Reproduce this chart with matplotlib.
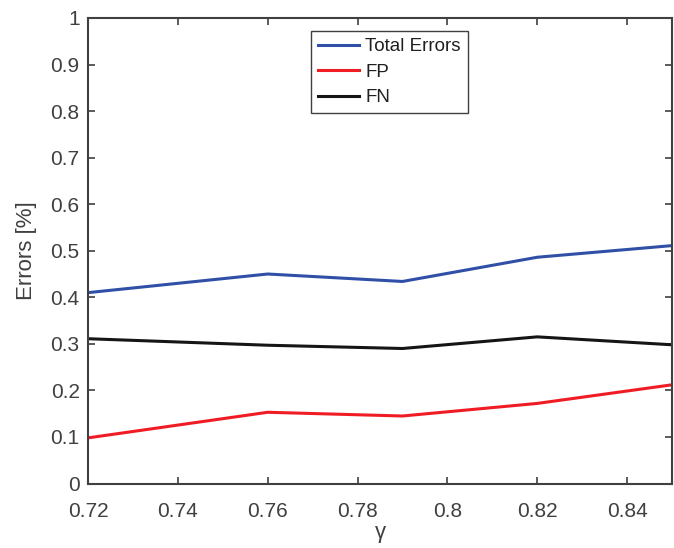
import matplotlib
matplotlib.use("Agg")
import matplotlib.pyplot as plt

gamma = [0.72, 0.76, 0.79, 0.82, 0.85]
total_errors = [0.410, 0.450, 0.434, 0.486, 0.511]
fp = [0.098, 0.153, 0.145, 0.172, 0.212]
fn = [0.311, 0.297, 0.290, 0.315, 0.298]

x_ticks = [0.72, 0.74, 0.76, 0.78, 0.8, 0.82, 0.84]
y_ticks = [0, 0.1, 0.2, 0.3, 0.4, 0.5, 0.6, 0.7, 0.8, 0.9, 1]

grey = "#404040"
plt.rcParams["font.family"] = ["Liberation Sans", "DejaVu Sans"]


def main() -> None:
    fig = plt.figure(figsize=(6.74, 5.48), dpi=100)
    ax = fig.add_axes([0.1306, 0.1177, 0.8664, 0.8495])

    ax.plot(gamma, total_errors, color="#3050a8", lw=2.2, label="Total Errors")
    ax.plot(gamma, fp, color="#f01c24", lw=2.2, label="FP")
    ax.plot(gamma, fn, color="#151515", lw=2.2, label="FN")

    ax.set_xlim(0.72, 0.85)
    ax.set_ylim(0, 1)
    ax.set_xticks(x_ticks)
    ax.set_xticklabels([f"{v:g}" for v in x_ticks])
    ax.set_yticks(y_ticks)
    ax.set_yticklabels([f"{v:g}" for v in y_ticks])

    ax.tick_params(direction="in", length=5, width=1.2, colors=grey,
                   labelsize=15, top=True, right=True, pad=6)
    ax.tick_params(axis="x", pad=13)
    for s in ax.spines.values():
        s.set_color(grey)
        s.set_linewidth(1.5)

    ax.set_xlabel("γ", fontsize=16, color=grey, labelpad=1)
    ax.set_ylabel("Errors [%]", fontsize=16, color=grey, labelpad=10)

    leg = ax.legend(loc="upper left", bbox_to_anchor=(0.382, 0.971),
                    fontsize=13.5, fancybox=False, framealpha=1,
                    edgecolor=grey, handlelength=2.2, borderpad=0.35,
                    labelspacing=0.45, handletextpad=0.35, borderaxespad=0)
    leg.get_frame().set_linewidth(1.0)
    for t in leg.get_texts():
        t.set_color("#202020")

    fig.savefig("out.png", dpi=100)


if __name__ == "__main__":
    main()
